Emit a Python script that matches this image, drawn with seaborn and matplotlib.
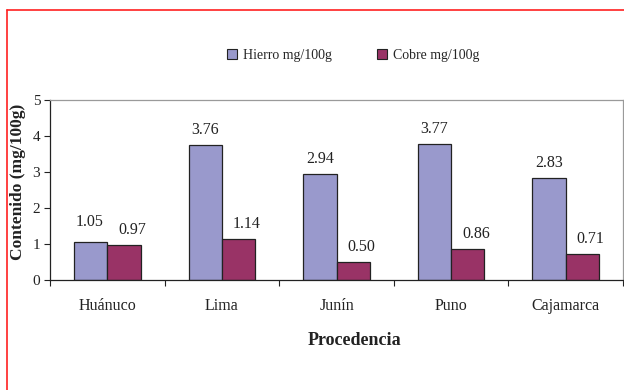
import matplotlib
matplotlib.use("Agg")
import matplotlib.pyplot as plt
import seaborn as sns
import pandas as pd
from matplotlib.lines import Line2D
from matplotlib.patches import Patch

# Contenido de hierro y cobre por procedencia (mg/100g)
procedencias = ["Huánuco", "Lima", "Junín", "Puno", "Cajamarca"]
hierro = [1.05, 3.76, 2.94, 3.77, 2.83]
cobre = [0.97, 1.14, 0.50, 0.86, 0.71]
series = ["Hierro mg/100g", "Cobre mg/100g"]
colores = ["#9999CC", "#993366"]

df = pd.DataFrame({
    "Procedencia": procedencias * 2,
    "Contenido": hierro + cobre,
    "Serie": [series[0]] * len(hierro) + [series[1]] * len(cobre),
})

sns.set_style("white")
plt.rcParams["font.family"] = ["Liberation Serif", "DejaVu Serif"]

fig = plt.figure(figsize=(6.24, 3.9), dpi=100)
ax = fig.add_axes([50 / 624, 1 - 280 / 390, 573 / 624, 180 / 390])

sns.barplot(data=df, x="Procedencia", y="Contenido", hue="Serie",
            palette=colores, width=0.58, edgecolor="#222222", linewidth=0.9,
            legend=False, ax=ax, saturation=1)

# etiquetas de valor; las de cobre se desplazan un poco a la derecha
for k, cont in enumerate(ax.containers):
    anns = ax.bar_label(cont, labels=[f"{v:.2f}" for v in cont.datavalues],
                        padding=5, fontsize=11.5, color="#222222")
    for ann in anns:
        dx = 6 if k == 1 else 0
        ann.xyann = (dx, 5)
    if k == 0:
        # evita que la etiqueta de Huánuco choque con la de cobre
        anns[0].xyann = (-1, 9)

ax.set_ylim(0, 5)
ax.set_xlim(-0.5, len(procedencias) - 0.5)
ax.set_yticks(range(0, 6))
ax.tick_params(axis="y", which="major", direction="out", length=4, width=0.8,
               color="#222222", labelsize=11, pad=3, left=True,
               labelcolor="#222222")
ax.tick_params(axis="x", which="major", length=0, labelsize=11.5, pad=13)
ax.set_xticks(range(len(procedencias)))
ax.set_xticklabels(procedencias, color="#222222")
ax.set_xticks([i - 0.5 for i in range(len(procedencias) + 1)], minor=True)
ax.tick_params(axis="x", which="minor", direction="out", length=4, width=0.8,
               color="#222222", bottom=True)

for s in ["left", "bottom"]:
    ax.spines[s].set_color("#222222")
    ax.spines[s].set_linewidth(0.9)
for s in ["top", "right"]:
    ax.spines[s].set_color("#9a9a9a")
    ax.spines[s].set_linewidth(0.9)

ax.set_xlabel("Procedencia", fontsize=13, fontweight="bold", color="#222222")
ax.xaxis.set_label_coords((354 - 50) / 573, -(332 - 280) / 180)
ax.set_ylabel("Contenido (mg/100g)", fontsize=12.5, fontweight="bold",
              color="#222222")
ax.yaxis.set_label_coords(-(50 - 26) / 573, (280 - 182) / 180)

handles = [Patch(facecolor=c, edgecolor="#222222", linewidth=0.8) for c in colores]
fig.legend(handles, series, loc="center", bbox_to_anchor=(0.566, 1 - 55 / 390),
           ncol=2, frameon=False, fontsize=10, handlelength=0.7,
           handleheight=0.7, handletextpad=0.4, columnspacing=3.3)

# marco rojo
fig.add_artist(Line2D([7 / 624, 1.0], [1 - 10 / 390, 1 - 10 / 390],
                      transform=fig.transFigure, color="#ff2020", linewidth=1.2))
fig.add_artist(Line2D([7 / 624, 7 / 624], [0, 1 - 10 / 390],
                      transform=fig.transFigure, color="#ff2020", linewidth=1.2))

fig.savefig("out.png", dpi=100)
